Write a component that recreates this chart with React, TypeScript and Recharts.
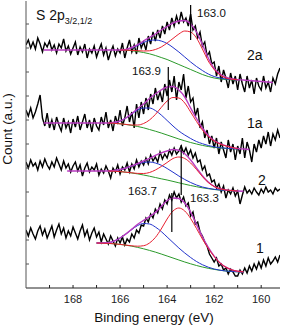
import React from "react";
import { LineChart, Line, XAxis, YAxis, ReferenceLine } from "recharts";

// raw spectra sampled every 0.1 eV from 170.0 down to 159.2
const energyGrid: number[] = Array.from({ length: 109 }, (_, i) => +(170 - i * 0.1).toFixed(1));

const raw2a = [
  243, 248, 240, 246, 239, 250, 244, 236, 245, 241,
  247, 238, 243, 235, 244, 240, 249, 237, 242, 234,
  240, 246, 233, 241, 236, 244, 230, 239, 235, 242,
  231, 238, 244, 233, 240, 228, 236, 242, 232, 239,
  235, 245, 230, 240, 248, 236, 243, 234, 250, 240,
  246, 238, 252, 244, 256, 247, 258, 250, 262, 254,
  266, 258, 270, 262, 272, 264, 276, 266, 270, 262,
  274, 258, 262, 250, 256, 242, 246, 232, 236, 224,
  226, 212, 222, 206, 218, 210, 200, 215, 204, 212,
  198, 214, 204, 196, 212, 200, 208, 194, 210, 202,
  198, 212, 200, 206, 196, 210, 204, 214, 220,
];
const raw1a = [
  178, 172, 180, 170, 176, 184, 193, 170, 162, 175,
  160, 168, 158, 171, 163, 157, 170, 160, 166, 155,
  169, 161, 172, 158, 166, 174, 160, 168, 156, 170,
  162, 158, 171, 163, 176, 160, 168, 157, 172, 164,
  178, 162, 170, 182, 166, 176, 160, 184, 170, 186,
  174, 190, 178, 194, 184, 200, 188, 196, 186, 204,
  192, 208, 196, 212, 188, 206, 198, 214, 190, 202,
  186, 190, 172, 180, 160, 166, 150, 158, 144, 152,
  140, 150, 134, 146, 138, 130, 148, 136, 144, 128,
  142, 134, 150, 130, 146, 138, 126, 144, 136, 148,
  140, 152, 144, 156, 142, 154, 148, 158, 150,
];
const raw2 = [
  126, 120, 128, 122, 125, 118, 127, 121, 129, 123,
  119, 126, 121, 130, 124, 118, 127, 120, 124, 116,
  122, 126, 117, 123, 112, 120, 125, 116, 121, 118,
  124, 113, 119, 115, 122, 117, 110, 120, 116, 123,
  114, 121, 118, 125, 116, 124, 119, 128, 121, 127,
  123, 130, 124, 133, 127, 131, 126, 136, 129, 134,
  130, 138, 133, 140, 134, 137, 142, 135, 140, 133,
  138, 130, 135, 126, 128, 118, 122, 112, 114, 106,
  108, 100, 104, 96, 102, 90, 98, 94, 100, 92,
  97, 84, 93, 101, 95, 98, 94, 100, 96, 93,
  99, 95, 101, 96, 98, 94, 100, 97, 99,
];
const raw1 = [
  58, 52, 60, 54, 49, 57, 62, 53, 59, 50,
  56, 62, 51, 58, 64, 54, 60, 50, 57, 52,
  61, 55, 49, 57, 63, 52, 58, 48, 55, 60,
  51, 56, 46, 54, 49, 44, 52, 47, 42, 50,
  45, 51, 43, 49, 46, 54, 50, 58, 55, 63,
  62, 70, 66, 74, 70, 79, 75, 84, 79, 88,
  84, 93, 88, 96, 90, 94, 86, 91, 82, 85,
  72, 76, 64, 66, 56, 52, 46, 42, 34, 30,
  26, 30, 22, 24, 18, 20, 14, 19, 16, 12,
  12, 18, 14, 20, 15, 22, 17, 24, 19, 26,
  20, 28, 22, 30, 24, 27, 31, 26, 33,
];

// fitted components, shared energy grid
const fitE = [
  169.25, 168.25, 167, 166.5, 166.25, 166, 165.75, 165.5, 165.25, 165,
  164.75, 164.5, 164.25, 164, 163.75, 163.5, 163.25, 163, 162.75, 162.5,
  162.25, 162, 161.75, 161.5, 161.25, 161, 160.75, 160.5, 160, 159.5,
];
const _ = null;

const env2a = [238, 238, 238, 238, 238, 238, 238.5, 240.5, 243.3, 247, 250.5, 254, 258, 261.5, 265, 267, 267.5, 264, 256, 243.5, 230, 219.5, 214, 210.8, 209.2, 208.3, 208, 207.5, 206.5, 205.5];
const grn2a = [_, _, _, _, _, 238, 237.8, 237.3, 236.5, 235.5, 234.2, 232.5, 230.5, 228.5, 226, 223.5, 221, 218.5, 216, 213.5, 211.5, 210, 209, 208.5, 208.2, 208, _, _, _, _];
const blu2a = [_, _, _, _, _, 238, 238.5, 240, 242.5, 245.5, 247.5, 248, 247, 244.5, 240.5, 236, 231, 226, 221.5, 217.5, 214, 211.5, 210, 209, 208.5, 208, _, _, _, _];
const red2a = [_, _, _, _, _, 238, 237.9, 237.6, 237.3, 237, 237.2, 238.5, 241, 245, 249.5, 254, 257, 256, 250, 239, 227, 218.5, 213, 210, 208.8, 208.2, _, _, _, _];

const env1a = [165, 165, 165, 165, 165.8, 167, 170, 174.5, 179.5, 184, 189.5, 194, 198, 201, 201.5, 198, 191, 180, 169.5, 160, 152.5, 147.5, 144.3, 142.2, 140.6, 139.5, 139, 138.5, _, _];
const grn1a = [_, _, _, 165, 164.7, 164.2, 163.5, 162.6, 161.5, 160.2, 158.5, 156.8, 155, 153, 151, 149, 147.2, 145.5, 144, 142.6, 141.5, 140.6, 140, 139.6, 139.3, 139, _, _, _, _];
const blu1a = [_, _, _, 165, 165.5, 167, 170, 174, 178, 180, 180, 177.5, 173, 167.5, 162, 157, 153, 149.5, 146.5, 144.3, 142.5, 141.2, 140.3, 139.8, 139.4, 139, _, _, _, _];
const red1a = [_, _, _, 165, 164.7, 164.2, 163.6, 163, 163, 164.5, 168, 173.5, 180.5, 187, 190.5, 190, 185, 176, 166.5, 158, 151.5, 147, 144, 142, 140.5, 139.5, _, _, _, _];

const env2 = [_, 117, 117, 117, 117.5, 118.5, 120, 122.2, 124.5, 127, 129.7, 132.5, 135.1, 137, 138.5, 137.8, 134.2, 128, 120.2, 112.3, 105.9, 101.7, 99.3, 98.1, 97.5, 97, 96.8, _, _, _];
const grn2 = [_, _, _, 117, 116.8, 116.4, 115.8, 115, 114.1, 113, 111.8, 110.5, 109.2, 108, 106.6, 105.2, 103.8, 102.5, 101.3, 100.2, 99.3, 98.5, 97.9, 97.5, 97.2, 97, _, _, _, _];
const blu2 = [_, _, _, 117, 117.5, 118.5, 120, 122, 124, 125.5, 126, 125, 122.8, 119.5, 115.8, 112, 108.5, 105.5, 103, 101, 99.7, 98.7, 98, 97.6, 97.3, 97, _, _, _, _];
const red2 = [_, _, _, 117, 116.8, 116.4, 115.8, 115.2, 114.6, 114.5, 115.5, 118, 121.5, 125.5, 129.5, 131, 129.5, 125, 118.5, 111.5, 105.5, 101.5, 99.2, 98, 97.4, 97, _, _, _, _];

const env1 = [_, _, 45, 45.3, 47, 50, 54.1, 58.9, 63.7, 67.6, 71.4, 75.6, 81.5, 87.5, 90, 89.5, 85, 75.8, 63.5, 51.3, 40.6, 31.9, 25.1, 20.8, 18.2, 16.8, 16.2, _, _, _];
const grn1 = [_, _, 45, 44.6, 44.2, 43.6, 42.8, 41.8, 40.6, 39.2, 37.6, 35.9, 34, 32, 30, 28, 26, 24.2, 22.5, 21, 19.7, 18.6, 17.7, 17, 16.5, 16.2, 16, _, _, _];
const blu1 = [_, _, 45, 45.3, 47, 50, 54, 58.5, 62.5, 64.5, 64, 61, 56.5, 51, 45.5, 40, 35, 30.5, 26.5, 23.3, 20.8, 19, 17.8, 17, 16.5, 16.2, 16, _, _, _];
const red1 = [_, _, 45, 44.6, 44.2, 43.6, 42.9, 42.2, 41.8, 42.3, 45, 50.5, 59, 69, 77, 80, 77, 69.5, 59.5, 49, 39.5, 31.5, 25, 20.8, 18.2, 16.8, 16.2, _, _, _];

// peak markers: energy, bottom, top
const markerE = [163.0, 163.95, 163.4, 163.8];
const markerLo = [248, 178, 93, 56];
const markerHi = [283, 221, 143, 95];
const markerText = ["163.0", "163.9", "163.3", "163.7"];

const xTicks = [160, 161, 162, 163, 164, 165, 166, 167, 168, 169];
const yTicks = [24, 48, 72, 96, 120, 144, 168, 192, 216, 240, 264];

const rawRows = (vals: number[]) => energyGrid.map((e, i) => ({ e, y: vals[i] }));
const fitRows = (env: any[], grn: any[], blu: any[], red: any[]) =>
  fitE.map((e, i) => ({ e, env: env[i], grn: grn[i], blu: blu[i], red: red[i] }));

const spectra = [
  { raw: rawRows(raw2a), fit: fitRows(env2a, grn2a, blu2a, red2a) },
  { raw: rawRows(raw1a), fit: fitRows(env1a, grn1a, blu1a, red1a) },
  { raw: rawRows(raw2), fit: fitRows(env2, grn2, blu2, red2) },
  { raw: rawRows(raw1), fit: fitRows(env1, grn1, blu1, red1) },
];

const font = "'Liberation Sans', Arial, sans-serif";
const txt = (left: number, top: number, size: number): React.CSSProperties => ({
  position: "absolute",
  left,
  top,
  fontSize: size,
  lineHeight: 1,
  color: "#111",
  whiteSpace: "nowrap",
});

const fitColors = { grn: "#2a9a2a", blu: "#2233cc", env: "#b83cc0", red: "#e82030" };

export default function App() {
  const empty = () => "";
  return (
    <div style={{ position: "absolute", left: 0, top: 0, width: 281, height: 327, fontFamily: font, background: "#fff" }}>
      <LineChart width={281} height={327} margin={{ top: 1, right: 1, bottom: 0, left: 0 }}>
        <XAxis
          xAxisId="b"
          dataKey="e"
          type="number"
          domain={[159.2, 170]}
          reversed
          allowDataOverflow
          ticks={xTicks}
          tickFormatter={(v: number) => (v % 2 === 0 ? String(v) : "")}
          tickSize={-3}
          tickMargin={10}
          height={39}
          stroke="#222"
          tick={{ fontSize: 11, fill: "#222", fontFamily: font }}
        />
        <XAxis
          xAxisId="t"
          orientation="top"
          dataKey="e"
          type="number"
          domain={[159.2, 170]}
          reversed
          allowDataOverflow
          ticks={xTicks}
          tickFormatter={empty}
          tickSize={-3}
          height={0}
          stroke="#222"
        />
        <YAxis
          yAxisId="l"
          type="number"
          domain={[0, 287]}
          allowDataOverflow
          ticks={yTicks}
          tickFormatter={empty}
          tickSize={-3}
          width={26}
          stroke="#555"
        />
        <YAxis
          yAxisId="r"
          orientation="right"
          type="number"
          domain={[0, 287]}
          allowDataOverflow
          ticks={yTicks}
          tickFormatter={empty}
          tickSize={-3}
          width={0}
          stroke="#555"
        />
        {spectra.map((s, k) => (
          <Line
            key={"raw" + k}
            xAxisId="b"
            yAxisId="l"
            data={s.raw}
            dataKey="y"
            type="linear"
            stroke="#000"
            strokeWidth={1.4}
            dot={false}
            isAnimationActive={false}
          />
        ))}
        {spectra.map((s, k) =>
          (["grn", "blu", "env", "red"] as const).map((c) => (
            <Line
              key={c + k}
              xAxisId="b"
              yAxisId="l"
              data={s.fit}
              dataKey={c}
              type="monotone"
              stroke={fitColors[c]}
              strokeWidth={c === "env" ? 1.4 : 1}
              dot={false}
              connectNulls={false}
              isAnimationActive={false}
            />
          ))
        )}
        {markerE.map((e, i) => (
          <ReferenceLine
            key={"m" + i}
            xAxisId="b"
            yAxisId="l"
            segment={[
              { x: e, y: markerLo[i] },
              { x: e, y: markerHi[i] },
            ]}
            stroke="#000"
            strokeWidth={1.2}
          />
        ))}
      </LineChart>

      <div style={txt(36, 8, 14)}>
        S 2p<span style={{ fontSize: 9, position: "relative", top: 4 }}>3/2,1/2</span>
      </div>
      <div style={txt(197, 7.5, 11.5)}>{markerText[0]}</div>
      <div style={txt(132, 65.5, 11.5)}>{markerText[1]}</div>
      <div style={txt(190, 192.5, 11.5)}>{markerText[2]}</div>
      <div style={txt(128, 185.5, 11.5)}>{markerText[3]}</div>
      <div style={txt(247, 48, 14)}>2a</div>
      <div style={txt(247, 116, 14)}>1a</div>
      <div style={txt(258, 173, 14)}>2</div>
      <div style={txt(256, 241, 14)}>1</div>
      <div style={{ ...txt(154, 311, 13.5), transform: "translateX(-50%)" }}>Binding energy (eV)</div>
      <div style={{ ...txt(8, 129, 13.5), transform: "translate(-50%, -50%) rotate(-90deg)" }}>Count (a.u.)</div>
    </div>
  );
}
